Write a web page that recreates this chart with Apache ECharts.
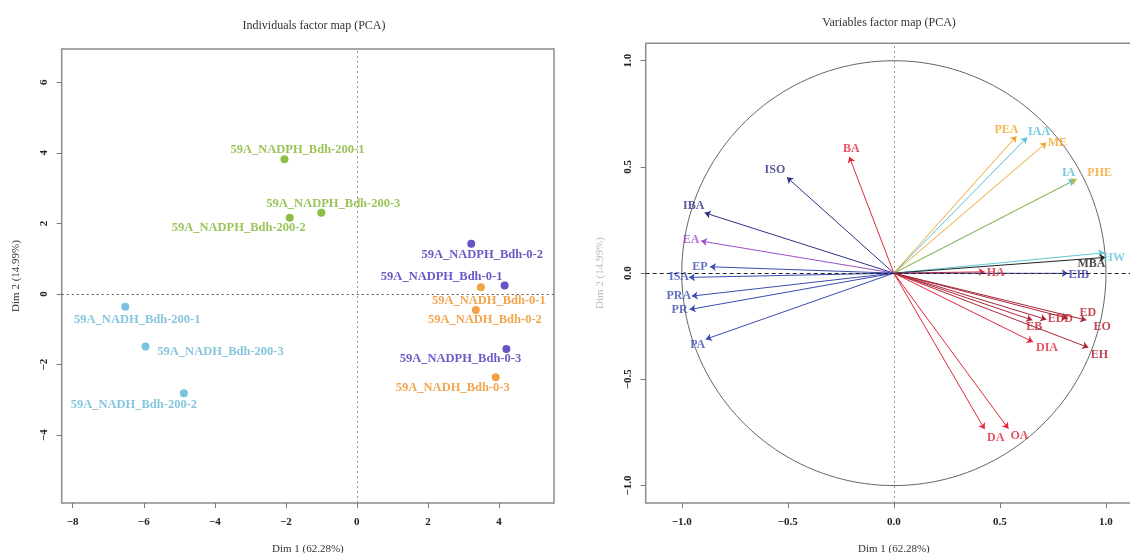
<!DOCTYPE html>
<html><head><meta charset="utf-8">
<script src="https://cdn.jsdelivr.net/npm/echarts@6/dist/echarts.min.js"></script>
<style>html,body{margin:0;padding:0;background:#fff}#c{width:1130px;height:553px}</style>
</head><body><div id="c"></div>
<script>
// ---------------- DATA ----------------
// Individuals factor map
const indNames = [
  '59A_NADPH_Bdh-200-1','59A_NADPH_Bdh-200-2','59A_NADPH_Bdh-200-3',
  '59A_NADPH_Bdh-0-1','59A_NADPH_Bdh-0-2','59A_NADPH_Bdh-0-3',
  '59A_NADH_Bdh-0-1','59A_NADH_Bdh-0-2','59A_NADH_Bdh-0-3',
  '59A_NADH_Bdh-200-1','59A_NADH_Bdh-200-2','59A_NADH_Bdh-200-3'
];
const indGroup = ['NADPH200','NADPH200','NADPH200','NADPH0','NADPH0','NADPH0','NADH0','NADH0','NADH0','NADH200','NADH200','NADH200'];
const indDim1 = [-2.04, -1.89, -1.00, 4.16, 3.22, 4.21, 3.49, 3.35, 3.91, -6.52, -4.87, -5.95];
const indDim2 = [3.82, 2.16, 2.30, 0.24, 1.42, -1.56, 0.19, -0.45, -2.36, -0.36, -2.81, -1.49];
const indXTicks = [-8, -6, -4, -2, 0, 2, 4];
const indYTicks = [-4, -2, 0, 2, 4, 6];

// Variables factor map
const varNames = ['BA','ISO','IBA','EA','EP','ISA','PRA','PR','PA','DA','OA','PEA','IAA','ME','IA','PHE','HW','MBA','HA','EIB','EDD','ED','EO','EB','DIA','EH'];
const varDim1 = [-0.21,-0.504,-0.892,-0.909,-0.867,-0.966,-0.953,-0.963,-0.887,0.428,0.540,0.578,0.628,0.719,0.852,0.862,0.992,0.998,0.428,0.820,0.719,0.820,0.907,0.653,0.656,0.917];
const varDim2 = [0.548,0.451,0.284,0.151,0.030,-0.020,-0.108,-0.171,-0.311,-0.735,-0.732,0.645,0.639,0.614,0.438,0.443,0.096,0.074,0.006,-0.001,-0.218,-0.212,-0.221,-0.221,-0.324,-0.350];
const varTicks = [-1.0, -0.5, 0.0, 0.5, 1.0];

// ---------------- STYLE ----------------
const FONT = 'Liberation Serif';
const groupColor = {NADPH200:'#8dbd45', NADPH0:'#6656c4', NADH0:'#f3a243', NADH200:'#78c3e0'};
const groupLabelColor = {NADPH200:'#9cc45a', NADPH0:'#6a5cc6', NADH0:'#f2a650', NADH200:'#86c6dc'};
const indLabelOffset = {
  '59A_NADPH_Bdh-200-1':[13,-9], '59A_NADPH_Bdh-200-3':[12,-9], '59A_NADPH_Bdh-200-2':[-51,10],
  '59A_NADPH_Bdh-0-2':[11,11], '59A_NADPH_Bdh-0-1':[-63,-9], '59A_NADH_Bdh-0-1':[8,13],
  '59A_NADH_Bdh-0-2':[9,10], '59A_NADPH_Bdh-0-3':[-46,10], '59A_NADH_Bdh-0-3':[-43,10],
  '59A_NADH_Bdh-200-1':[12,13], '59A_NADH_Bdh-200-3':[75,5], '59A_NADH_Bdh-200-2':[-50,12]
};
const varColor = {
  BA:'#e3263a', ISO:'#2f3182', IBA:'#2e3188', EA:'#9a4fc8', EP:'#3b4cb0', ISA:'#3b4cb0', PRA:'#3b4cb0',
  PR:'#3b4cb0', PA:'#3b4cb0', DA:'#e3263a', OA:'#e3263a', PEA:'#f0a52a', IAA:'#4dbfd9', ME:'#f3a630',
  IA:'#5ab9d6', PHE:'#a9bd4c', HW:'#5cc7d6', MBA:'#222222', HA:'#e3263a', EIB:'#3a3fa0',
  EDD:'#a8283a', ED:'#a8283a', EO:'#a8283a', EB:'#b02838', DIA:'#e3263a', EH:'#b02838'
};
const varLabelColor = Object.assign({}, varColor, {PHE:'#f0a830', ED:'#b01c2a', EO:'#b01c2a', EH:'#b01c2a', EDD:'#c0202e', EB:'#c0202e'});
const varLabelOffset = {
  BA:[2,-8], ISO:[-12,-7], IBA:[-11,-7], EA:[-10,-1], EP:[-10,0], ISA:[-10,0], PRA:[-13,0], PR:[-10,0],
  PA:[-8,6], DA:[11,9], OA:[11,7], PEA:[-10,-6], IAA:[12,-6], ME:[11,0], IA:[-6,-7], PHE:[23,-6],
  HW:[10,5], MBA:[-14,6], HA:[11,1], EIB:[11,2], EDD:[14,-1], ED:[20,-5], EO:[16,7], EB:[2,7],
  DIA:[14,6], EH:[11,7]
};

const fmtInt = v => String(v).replace('-', '\u2212');
const fmtDec = v => Number(v).toFixed(1).replace('-', '\u2212');

function axisCommon(ticks, fmt, rotate, margin) {
  return {
    type: 'value',
    splitLine: {show: false},
    axisLine: {show: false, onZero: false},
    axisTick: {show: true, inside: false, length: 5, customValues: ticks, lineStyle: {color: '#777', width: 1}},
    axisLabel: {show: true, customValues: ticks, formatter: fmt, rotate: rotate || 0, margin: margin,
      fontFamily: FONT, fontWeight: 'bold', fontSize: 11, color: '#222'},
    nameTextStyle: {fontFamily: FONT, fontSize: 11, color: '#333'}
  };
}

const chart = echarts.init(document.getElementById('c'), null, {renderer: 'canvas'});

// individuals series
const groups = ['NADPH200','NADPH0','NADH0','NADH200'];
const indSeries = groups.map((g, gi) => ({
  type: 'scatter', xAxisIndex: 0, yAxisIndex: 0, symbolSize: 8, z: 5,
  itemStyle: {color: groupColor[g], opacity: 1},
  label: {show: true, position: 'inside', formatter: '{b}', fontFamily: FONT, fontWeight: 'bold', fontSize: 12.5,
    color: groupLabelColor[g]},
  data: indNames.map((n, i) => indGroup[i] === g ? {
    name: n, value: [indDim1[i], indDim2[i]],
    label: {offset: indLabelOffset[n]}
  } : null).filter(Boolean),
  markLine: gi === 0 ? {
    silent: true, symbol: 'none', label: {show: false}, animation: false,
    data: [
      {xAxis: 0, lineStyle: {color: '#999', type: [2, 3], width: 1}},
      {yAxis: 0, lineStyle: {color: '#555', type: [2, 3], width: 1}}
    ]
  } : undefined
}));

// unit circle (reference)
const circle = [];
for (let k = 0; k <= 360; k += 2) circle.push([Math.cos(k * Math.PI / 180), Math.sin(k * Math.PI / 180)]);

const arrowSeries = {
  type: 'lines', coordinateSystem: 'cartesian2d', xAxisIndex: 1, yAxisIndex: 1, z: 4,
  symbol: ['none', 'arrow'], symbolSize: 6, silent: true,
  lineStyle: {opacity: 1, width: 1},
  data: varNames.map((n, i) => ({coords: [[0, 0], [varDim1[i], varDim2[i]]], lineStyle: {color: varColor[n], width: 1, opacity: 1}}))
};
const varLabelSeries = {
  type: 'scatter', xAxisIndex: 1, yAxisIndex: 1, symbolSize: 0, z: 6, silent: true,
  label: {show: true, position: 'inside', formatter: '{b}', fontFamily: FONT, fontWeight: 'bold', fontSize: 12},
  data: varNames.map((n, i) => ({name: n, value: [varDim1[i], varDim2[i]],
    label: {offset: varLabelOffset[n], color: varLabelColor[n]}}))
};
const circleSeries = {
  type: 'line', xAxisIndex: 1, yAxisIndex: 1, data: circle, showSymbol: false, smooth: false, z: 2, silent: true,
  lineStyle: {color: '#666', width: 1},
  markLine: {
    silent: true, symbol: 'none', label: {show: false}, animation: false,
    data: [
      {xAxis: 0, lineStyle: {color: '#999', type: [2, 3], width: 1}},
      {yAxis: 0, lineStyle: {color: '#222', type: [4, 3], width: 1}}
    ]
  }
};

chart.setOption({
  animation: false,
  backgroundColor: '#fff',
  title: [
    {text: 'Individuals factor map (PCA)', left: 309, top: 15, textAlign: 'center',
      textStyle: {fontFamily: FONT, fontSize: 12, fontWeight: 'normal', color: '#333'}},
    {text: 'Variables factor map (PCA)', left: 884, top: 12, textAlign: 'center',
      textStyle: {fontFamily: FONT, fontSize: 12, fontWeight: 'normal', color: '#333'}}
  ],
  grid: [
    {left: 61.7, top: 49, width: 492.3, height: 454, show: true, borderColor: '#8c8c8c', borderWidth: 1.5,
      containLabel: false, outerBoundsMode: 'none'},
    {left: 645.7, top: 43.3, width: 496.3, height: 459.7, show: true, borderColor: '#8c8c8c', borderWidth: 1.5,
      containLabel: false, outerBoundsMode: 'none'}
  ],
  xAxis: [
    Object.assign(axisCommon(indXTicks, fmtInt, 0, 14), {gridIndex: 0, min: -8.31, max: 5.55,
      name: 'Dim 1 (62.28%)', nameLocation: 'middle', nameGap: 41}),
    Object.assign(axisCommon(varTicks, fmtDec, 0, 14), {gridIndex: 1, min: -1.17, max: 1.17,
      name: 'Dim 1 (62.28%)', nameLocation: 'middle', nameGap: 41})
  ],
  yAxis: [
    Object.assign(axisCommon(indYTicks, fmtInt, 90, 12), {gridIndex: 0, min: -5.92, max: 6.94,
      name: 'Dim 2 (14.99%)', nameLocation: 'middle', nameGap: 40}),
    Object.assign(axisCommon(varTicks, fmtDec, 90, 12), {gridIndex: 1, min: -1.082, max: 1.082,
      name: 'Dim 2 (14.99%)', nameLocation: 'middle', nameGap: 40,
      nameTextStyle: {fontFamily: FONT, fontSize: 11, color: '#bbb'}})
  ],
  series: [circleSeries, arrowSeries, varLabelSeries].concat(indSeries)
});
</script></body></html>
